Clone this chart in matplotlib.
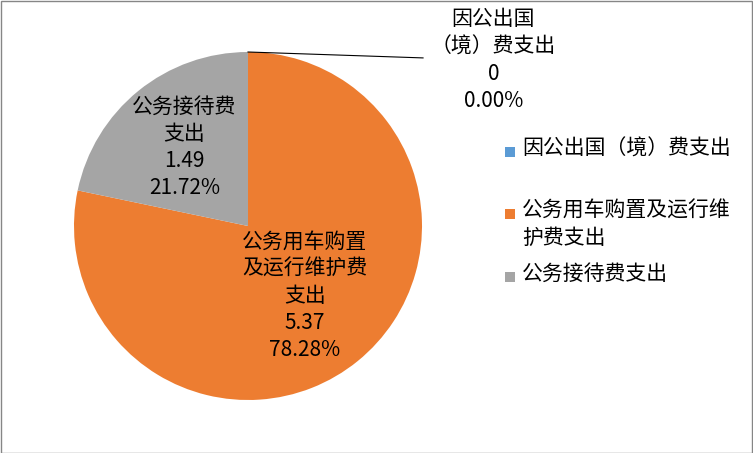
import numpy as np
import matplotlib
matplotlib.use('Agg')
import matplotlib.pyplot as plt
from matplotlib.patches import Rectangle

plt.rcParams['font.family'] = ['Noto Sans CJK SC', 'DejaVu Sans']

# data
categories = ['因公出国（境）费支出', '公务用车购置及运行维护费支出', '公务接待费支出']
values = [0, 5.37, 1.49]
percents = ['0.00%', '78.28%', '21.72%']
label_names = ['因公出国\n（境）费支出', '公务用车购置\n及运行维护费\n支出', '公务接待费\n支出']
legend_names = ['因公出国（境）费支出', '公务用车购置及运行维\n护费支出', '公务接待费支出']
colors = ['#5B9BD5', '#ED7D31', '#A5A5A5']

W, H = 753, 453
fig = plt.figure(figsize=(W / 100, H / 100), dpi=100)

# pie centre (248, 226) px, radius 174 px
cx, cy, r = 248, 226, 174
ax = fig.add_axes([(cx - r) / W, (H - cy - r) / H, 2 * r / W, 2 * r / H])

wedges, _ = ax.pie(values, colors=colors, startangle=90, counterclock=False,
                   radius=1, wedgeprops=dict(linewidth=0))
ax.set_xlim(-1, 1)
ax.set_ylim(-1, 1)
ax.set_aspect('equal')
ax.axis('off')

fs = 15
lsp = 1.3
label_r = {1: 0.52, 2: 0.58}
for i, w in enumerate(wedges):
    text = f"{label_names[i]}\n{values[i]:g}\n{percents[i]}"
    if values[i] == 0:
        # outside label with leader line
        ax.plot([0, 1.006], [1, 0.966], color='black', lw=0.8, clip_on=False)
        ax.text(1.41, 0.954, text, ha='center', va='center', fontsize=fs,
                linespacing=lsp, clip_on=False)
    else:
        mid = np.deg2rad((w.theta1 + w.theta2) / 2)
        rr = label_r[i]
        ax.text(rr * np.cos(mid), rr * np.sin(mid), text, ha='center', va='center',
                fontsize=fs, linespacing=lsp)

# legend drawn by hand (marker aligned with the first line)
leg_y = [152, 214, 277]
for name, col, y in zip(legend_names, colors, leg_y):
    fig.patches.append(Rectangle((505 / W, 1 - (y + 5) / H), 10 / W, 10 / H,
                                 transform=fig.transFigure, facecolor=col,
                                 edgecolor='none'))
    fig.text(522 / W, 1 - (y - 14) / H, name, ha='left', va='top',
             fontsize=fs, linespacing=lsp)

# outer border
fig.patches.append(Rectangle((0.5 / W, 0.5 / H), (W - 1.5) / W, (H - 1.5) / H,
                             transform=fig.transFigure, facecolor='none',
                             edgecolor='#868686', lw=1))

fig.savefig('out.png', dpi=100)
